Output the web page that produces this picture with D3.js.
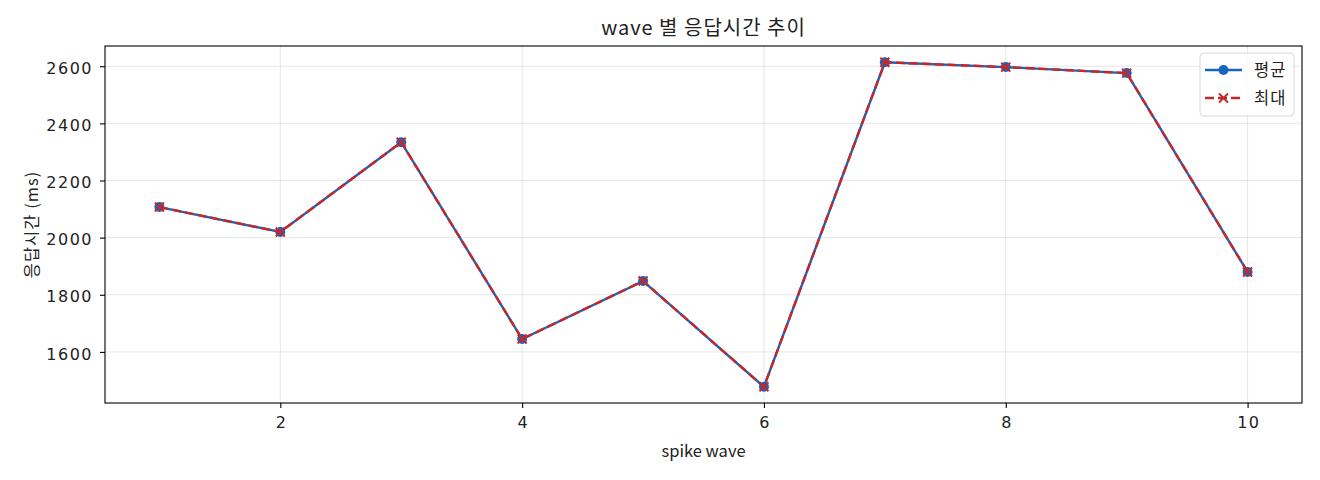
<!DOCTYPE html>
<html><head><meta charset="utf-8">
<script src="https://cdn.jsdelivr.net/npm/d3@7"></script>
<style>body{margin:0;background:#fff;} text{font-family:"Noto Sans CJK KR","Noto Sans",sans-serif;fill:#222;}</style>
</head><body><svg id="c" width="1320" height="480"></svg>
<script>
const waves = [1,2,3,4,5,6,7,8,9,10];
const avgMs = [2107,2020,2334,1645,1848,1478,2614,2597,2576,1880];
const maxMs = [2107,2020,2334,1645,1848,1478,2614,2597,2576,1880];
const xTicks = [2,4,6,8,10];
const yTicks = [1600,1800,2000,2200,2400,2600];
const seriesNames = ["평균","최대"];
const title = "wave 별 응답시간 추이";
const xLabel = "spike wave";
const yLabel = "응답시간 (ms)";

const blue = "#1565c0", red = "#c62828";
const L=105,R=1302,T=46,B=403;
const svg = d3.select("#c");
const xmin=d3.min(waves), xmax=d3.max(waves), xm=(xmax-xmin)*0.05;
const all=avgMs.concat(maxMs); const ymin=d3.min(all), ymax=d3.max(all), ym=(ymax-ymin)*0.05;
const x=d3.scaleLinear().domain([xmin-xm,xmax+xm]).range([L,R]);
const y=d3.scaleLinear().domain([ymin-ym,ymax+ym]).range([B,T]);

// grid
svg.append("g").selectAll("line").data(xTicks).join("line")
 .attr("x1",d=>x(d)).attr("x2",d=>x(d)).attr("y1",T).attr("y2",B).attr("stroke","#b0b0b0").attr("stroke-opacity",0.3).attr("stroke-width",1);
svg.append("g").selectAll("line").data(yTicks).join("line")
 .attr("y1",d=>y(d)).attr("y2",d=>y(d)).attr("x1",L).attr("x2",R).attr("stroke","#b0b0b0").attr("stroke-opacity",0.3).attr("stroke-width",1);

// axes
const xa=svg.append("g").attr("transform",`translate(0,${B})`).call(d3.axisBottom(x).tickValues(xTicks).tickSize(5).tickPadding(9).tickFormat(d3.format("d")));
const ya=svg.append("g").attr("transform",`translate(${L},0)`).call(d3.axisLeft(y).tickValues(yTicks).tickSize(5).tickPadding(7).tickFormat(d3.format("d")));
[xa,ya].forEach(a=>{a.select(".domain").remove();a.selectAll("line").attr("stroke","#000").attr("stroke-width",1.1);
  a.selectAll("text").attr("font-size",16).attr("fill","#222").style("font-family",'"DejaVu Sans",sans-serif').style("letter-spacing","1.5px");});
ya.selectAll("text").attr("dy","0.45em");
xa.selectAll("text").attr("dx","0.75px");
svg.append("rect").attr("x",L).attr("y",T).attr("width",R-L).attr("height",B-T).attr("fill","none").attr("stroke","#000").attr("stroke-width",1.1);

// lines
const line=d3.line().x((d,i)=>x(waves[i])).y(d=>y(d));
svg.append("path").datum(avgMs).attr("d",line).attr("fill","none").attr("stroke",blue).attr("stroke-width",2.4);
svg.selectAll(".dot").data(avgMs).join("circle").attr("cx",(d,i)=>x(waves[i])).attr("cy",d=>y(d)).attr("r",5).attr("fill",blue);
svg.append("path").datum(maxMs).attr("d",line).attr("fill","none").attr("stroke",red).attr("stroke-width",2.4).attr("stroke-dasharray","9,4");
const cs=4.5;
svg.selectAll(".xm").data(maxMs).join("path")
 .attr("d",(d,i)=>{const cx=x(waves[i]),cy=y(d);return `M${cx-cs},${cy-cs}L${cx+cs},${cy+cs}M${cx-cs},${cy+cs}L${cx+cs},${cy-cs}`;})
 .attr("stroke",red).attr("stroke-width",2).attr("fill","none");

// labels
svg.append("text").attr("x",(L+R)/2).attr("y",35).attr("text-anchor","middle").attr("font-size",20).style("letter-spacing","1px").text(title);
svg.append("text").attr("x",(L+R)/2).attr("y",457).attr("text-anchor","middle").attr("font-size",16.5).text(xLabel);
svg.append("text").attr("transform",`translate(38,${(T+B)/2}) rotate(-90)`).attr("text-anchor","middle").attr("font-size",16.5).style("letter-spacing","1px").text(yLabel);

// legend
const lg=svg.append("g");
lg.append("rect").attr("x",1200).attr("y",53).attr("width",94).attr("height",63).attr("rx",4).attr("fill","#fff").attr("fill-opacity",0.8).attr("stroke","#d8d8d8");
const ly=[70,98];
lg.append("line").attr("x1",1205).attr("x2",1242).attr("y1",ly[0]).attr("y2",ly[0]).attr("stroke",blue).attr("stroke-width",2.4);
lg.append("circle").attr("cx",1223.5).attr("cy",ly[0]).attr("r",5).attr("fill",blue);
lg.append("line").attr("x1",1205).attr("x2",1242).attr("y1",ly[1]).attr("y2",ly[1]).attr("stroke",red).attr("stroke-width",2.4).attr("stroke-dasharray","9,4");
lg.append("path").attr("d",`M${1223.5-cs},${ly[1]-cs}L${1223.5+cs},${ly[1]+cs}M${1223.5-cs},${ly[1]+cs}L${1223.5+cs},${ly[1]-cs}`).attr("stroke",red).attr("stroke-width",2);
seriesNames.forEach((n,i)=>lg.append("text").attr("x",1254).attr("y",ly[i]+6).attr("font-size",16.5).style("letter-spacing","1px").text(n));
</script></body></html>
